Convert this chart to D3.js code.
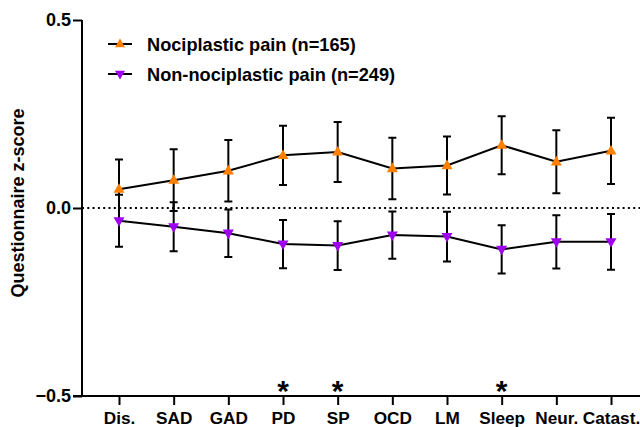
<!DOCTYPE html>
<html>
<head>
<meta charset="utf-8">
<script src="https://cdn.jsdelivr.net/npm/d3@7"></script>
<style>
  body { margin: 0; background: #fff; }
  svg { font-family: "Liberation Sans", Arial, sans-serif; font-weight: bold; }
</style>
</head>
<body>
<svg width="640" height="427"></svg>
<script>
const categories = ["Dis.", "SAD", "GAD", "PD", "SP", "OCD", "LM", "Sleep", "Neur.", "Catast."];
const nociMean = [0.050, 0.074, 0.099, 0.140, 0.149, 0.105, 0.113, 0.167, 0.123, 0.152];
const nociErr = [0.079, 0.082, 0.082, 0.079, 0.080, 0.082, 0.077, 0.077, 0.084, 0.088];
const nonMean = [-0.034, -0.050, -0.067, -0.096, -0.100, -0.072, -0.076, -0.110, -0.090, -0.090];
const nonErr = [0.069, 0.065, 0.063, 0.064, 0.065, 0.063, 0.066, 0.064, 0.071, 0.074];
const starred = ["PD", "SP", "Sleep"];
const yTicks = [-0.5, 0.0, 0.5];

const series = [
  { name: "Nociplastic pain (n=165)", mean: nociMean, err: nociErr, color: "#ff7f00", up: true },
  { name: "Non-nociplastic pain (n=249)", mean: nonMean, err: nonErr, color: "#a000f0", up: false }
];

const svg = d3.select("svg");
const axisX = 82, axisBottom = 396;

const x = d3.scalePoint().domain(categories).range([119, 611]);
const y = d3.scaleLinear().domain([-0.5, 0.5]).range([396, 20]);

// triangle marker
function tri(up, s) {
  const h = s * 0.87;
  return up
    ? `M0,${-h * 0.62}L${s / 2},${h * 0.38}L${-s / 2},${h * 0.38}Z`
    : `M0,${h * 0.62}L${s / 2},${-h * 0.38}L${-s / 2},${-h * 0.38}Z`;
}

// zero line
svg.append("line")
  .attr("x1", axisX).attr("x2", 640)
  .attr("y1", y(0)).attr("y2", y(0))
  .attr("stroke", "#000").attr("stroke-width", 2)
  .attr("stroke-dasharray", "2,3.3");

// y axis
const yAxis = d3.axisLeft(y).tickValues(yTicks).tickFormat(d3.format(".1f")).tickSize(9).tickPadding(2);
const gy = svg.append("g").attr("transform", `translate(${axisX},0)`).call(yAxis);
gy.select(".domain").attr("stroke-width", 2).attr("d", `M0,${y(0.5)}V${y(-0.5)}`);
gy.selectAll(".tick line").attr("stroke-width", 2);
gy.selectAll(".tick text").attr("font-size", 18).attr("font-family", null).attr("fill", "#000");

// x axis
const xAxis = d3.axisBottom(x).tickSize(9).tickPadding(7);
const gx = svg.append("g").attr("transform", `translate(0,${axisBottom})`).call(xAxis);
gx.select(".domain").attr("stroke-width", 2).attr("d", `M${axisX - 9},0H648`);
gx.selectAll(".tick line").attr("stroke-width", 2);
gx.selectAll(".tick text").attr("font-size", 17.2).attr("font-family", null).attr("fill", "#000");

// y title
svg.append("text")
  .attr("transform", `translate(24,${y(0) - 5}) rotate(-90)`)
  .attr("text-anchor", "middle")
  .attr("font-size", 18)
  .text("Questionnaire z-score");

series.forEach(s => {
  const pts = categories.map((c, i) => ({ c, m: s.mean[i], e: s.err[i] }));
  const g = svg.append("g");
  // error bars
  pts.forEach(p => {
    const cx = x(p.c);
    g.append("path")
      .attr("d", `M${cx},${y(p.m + p.e)}V${y(p.m - p.e)}M${cx - 4},${y(p.m + p.e)}H${cx + 4}M${cx - 4},${y(p.m - p.e)}H${cx + 4}`)
      .attr("stroke", "#000").attr("stroke-width", 2).attr("fill", "none");
  });
  g.append("path")
    .datum(pts)
    .attr("d", d3.line().x(p => x(p.c)).y(p => y(p.m)))
    .attr("fill", "none").attr("stroke", "#000").attr("stroke-width", 2);
  g.selectAll(".mk").data(pts).enter().append("path")
    .attr("transform", p => `translate(${x(p.c)},${y(p.m)})`)
    .attr("d", tri(s.up, 11))
    .attr("fill", s.color);
});

// significance stars
svg.selectAll(".star").data(starred).enter().append("text")
  .attr("x", d => x(d)).attr("y", 401)
  .attr("text-anchor", "middle")
  .attr("font-size", 30)
  .text("*");

// legend
const leg = svg.append("g");
series.forEach((s, i) => {
  const ly = 44 + i * 30;
  leg.append("line").attr("x1", 108).attr("x2", 132).attr("y1", ly).attr("y2", ly)
    .attr("stroke", "#000").attr("stroke-width", 2);
  leg.append("path").attr("transform", `translate(120,${ly})`).attr("d", tri(s.up, 10)).attr("fill", s.color);
  leg.append("text").attr("x", 147).attr("y", ly + 6.5).attr("font-size", 18.2).text(s.name);
});
</script>
</body>
</html>
